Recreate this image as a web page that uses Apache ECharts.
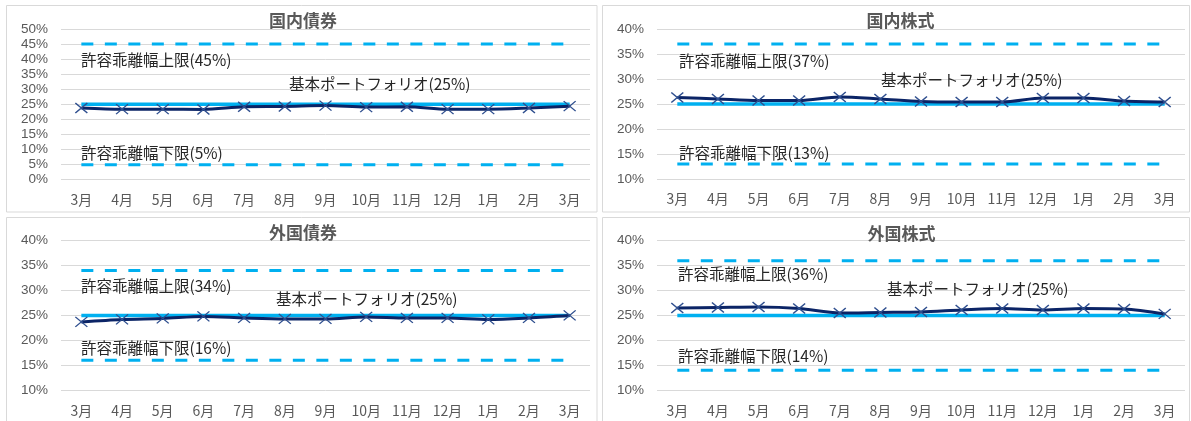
<!DOCTYPE html>
<html>
<head>
<meta charset="utf-8">
<script src="https://cdn.jsdelivr.net/npm/echarts@6/dist/echarts.min.js"></script>
<style>
html,body{margin:0;padding:0;background:#fff;}
#c{width:1191px;height:421px;}
</style>
</head>
<body>
<div id="c"></div>
<script>
// ---- data ----
const months = ['3月','4月','5月','6月','7月','8月','9月','10月','11月','12月','1月','2月','3月'];
const titles = ['国内債券','国内株式','外国債券','外国株式'];
const basePct = [25, 25, 25, 25];
const upperPct = [45, 37, 34, 36];
const lowerPct = [5, 13, 16, 14];
const domesticBond  = [23.8, 23.4, 23.4, 23.3, 24.2, 24.3, 24.6, 24.1, 24.2, 23.4, 23.4, 23.8, 24.4];
const domesticStock = [26.3, 26.0, 25.7, 25.7, 26.4, 26.0, 25.5, 25.4, 25.4, 26.2, 26.2, 25.6, 25.4];
const foreignBond   = [23.7, 24.2, 24.4, 24.8, 24.5, 24.3, 24.3, 24.7, 24.5, 24.5, 24.2, 24.5, 25.0];
const foreignStock  = [26.5, 26.6, 26.7, 26.4, 25.5, 25.6, 25.7, 26.1, 26.4, 26.1, 26.4, 26.3, 25.3];
const actual = [domesticBond, domesticStock, foreignBond, foreignStock];
const yMin = [0, 10, 10, 10];
const yMax = [50, 40, 40, 40];
const yInterval = 5;

// ---- layout (styles/positions) ----
const grids = [
  {left: 61, width: 529, top: 29, height: 150.7},
  {left: 657, width: 528, top: 29, height: 150},
  {left: 61, width: 529, top: 240.7, height: 149.5},
  {left: 657, width: 528, top: 240.7, height: 149.5}
];
const panels = [
  {x: 6.5, y: 5.5, w: 590.5, h: 206.5},
  {x: 602.5, y: 5.5, w: 587, h: 206.5},
  {x: 6.5, y: 217.5, w: 590.5, h: 210},
  {x: 602.5, y: 217.5, w: 587, h: 210}
];
const titlePos = [[303, 21], [900.5, 20.5], [303, 233], [901.5, 233.5]];
const upperPos = [[81, 60], [679, 61], [81, 286.5], [678, 274.5]];
const lowerPos = [[81, 153], [679, 153], [81, 348.5], [678, 356.5]];
const basePos  = [[289, 84], [881, 80], [276, 299], [887, 289]];

const LIGHT = '#00B0F0';
const DARK = '#0B2466';
const MARK = '#2F4F8F';
const TXT = '#262626';
const GRAY = '#595959';
const JP = '"Noto Sans CJK JP", "Noto Sans", sans-serif';

const option = {
  animation: false,
  backgroundColor: '#fff',
  grid: [], xAxis: [], yAxis: [], series: [], graphic: []
};

for (let i = 0; i < 4; i++) {
  option.grid.push(Object.assign({containLabel: false}, grids[i]));
  option.xAxis.push({
    type: 'category', gridIndex: i, data: months, boundaryGap: true,
    axisLine: {show: false}, axisTick: {show: false},
    axisLabel: {interval: 0, color: GRAY, fontSize: 14, margin: 13, fontFamily: JP}
  });
  option.yAxis.push({
    type: 'value', gridIndex: i, min: yMin[i], max: yMax[i], interval: yInterval,
    axisLine: {show: false}, axisTick: {show: false},
    axisLabel: {formatter: '{value}%', color: GRAY, fontSize: 13.5, margin: 13, fontFamily: 'Liberation Sans, Arial, sans-serif'},
    splitLine: {lineStyle: {color: '#D9D9D9', width: 1}}
  });
  const flat = v => months.map(() => v);
  option.series.push({
    type: 'line', xAxisIndex: i, yAxisIndex: i, data: flat(upperPct[i]),
    symbol: 'none', lineStyle: {color: LIGHT, width: 3, type: [12, 11.5], cap: 'butt'}, z: 2
  });
  option.series.push({
    type: 'line', xAxisIndex: i, yAxisIndex: i, data: flat(lowerPct[i]),
    symbol: 'none', lineStyle: {color: LIGHT, width: 3, type: [12, 11.5], cap: 'butt'}, z: 2
  });
  option.series.push({
    type: 'line', xAxisIndex: i, yAxisIndex: i, data: flat(basePct[i]),
    symbol: 'none', lineStyle: {color: LIGHT, width: 3.5}, z: 3
  });
  option.series.push({
    type: 'line', xAxisIndex: i, yAxisIndex: i, data: actual[i], smooth: 0.3,
    symbol: 'path://M0,0L10,10M0,10L10,0', symbolSize: [12, 10], showSymbol: true,
    itemStyle: {color: 'rgba(0,0,0,0)', borderColor: MARK, borderWidth: 1.3},
    lineStyle: {color: DARK, width: 3}, z: 4
  });

  const p = panels[i];
  option.graphic.push({type: 'rect', shape: {x: p.x, y: p.y, width: p.w, height: p.h},
    style: {fill: 'none', stroke: '#D9D9D9', lineWidth: 1}, z: 0, silent: true});
  option.graphic.push({type: 'text', x: titlePos[i][0], y: titlePos[i][1],
    style: {text: titles[i], font: 'bold 17px ' + JP, fill: GRAY, align: 'center', verticalAlign: 'middle'}, z: 10});
  option.graphic.push({type: 'text', x: upperPos[i][0], y: upperPos[i][1],
    style: {text: '許容乖離幅上限(' + upperPct[i] + '%)', font: '15.5px ' + JP, fill: TXT, verticalAlign: 'middle'}, z: 10});
  option.graphic.push({type: 'text', x: lowerPos[i][0], y: lowerPos[i][1],
    style: {text: '許容乖離幅下限(' + lowerPct[i] + '%)', font: '15.5px ' + JP, fill: TXT, verticalAlign: 'middle'}, z: 10});
  option.graphic.push({type: 'text', x: basePos[i][0], y: basePos[i][1],
    style: {text: '基本ポートフォリオ(' + basePct[i] + '%)', font: '15.5px ' + JP, fill: TXT, verticalAlign: 'middle'}, z: 10});
}

const chart = echarts.init(document.getElementById('c'), null, {renderer: 'canvas'});
chart.setOption(option);
</script>
</body>
</html>
